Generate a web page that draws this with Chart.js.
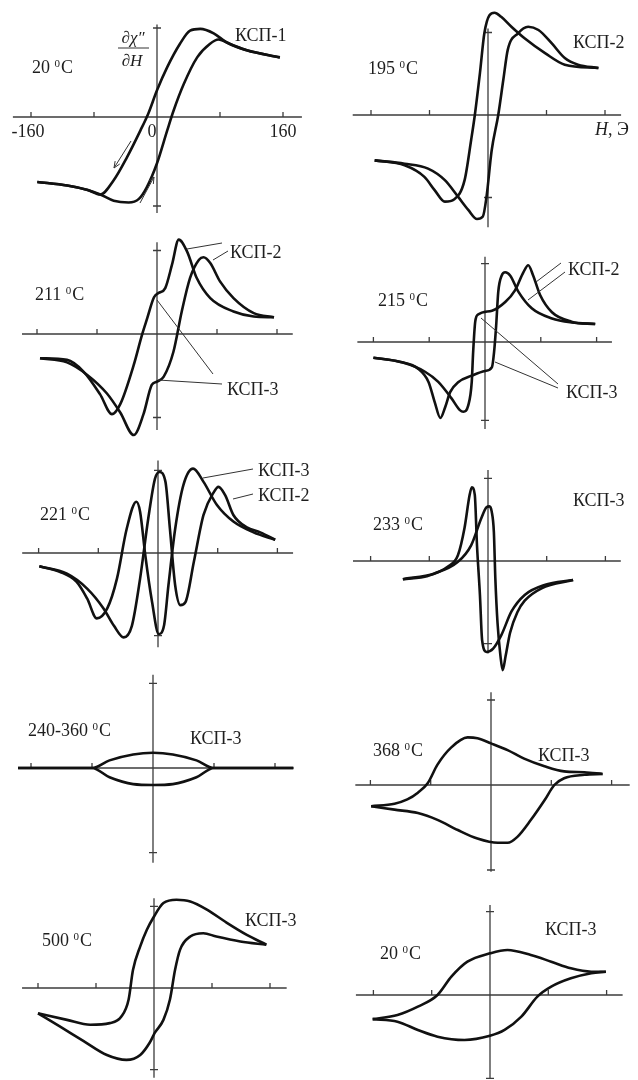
<!DOCTYPE html>
<html>
<head>
<meta charset="utf-8">
<script src="https://cdn.jsdelivr.net/npm/chart.js@4/dist/chart.umd.min.js"></script>
<style>
body { margin: 0; background: #fff; }
#wrap { position: relative; width: 638px; height: 1080px; }
#wrap canvas { position: absolute; }
</style>
</head>
<body>
<div id="wrap"></div>
<script>
// H in Oe, y = d(chi'')/dH in units of the y tick
const hTicks = [-160, -80, 0, 80, 160];
const yTicks = [-1, 1];
const hTickLabels = ['-160', '0', '160'];
const temps = ['20', '195', '211', '215', '221', '233', '240-360', '368', '500', '20'];

// 20 C, KSP-1
const p1aH = [-152, -114, -88, -72, -55, -38, -21, -11, 0, 13, 29, 42, 55, 72, 88, 114, 156];
const p1aY = [-0.73, -0.77, -0.82, -0.87, -0.71, -0.45, -0.15, 0.04, 0.30, 0.56, 0.82, 0.97, 0.99, 0.94, 0.84, 0.75, 0.67];
const p1bH = [-152, -114, -88, -72, -55, -36, -23, -13, 0, 13, 21, 34, 51, 67, 78, 93, 114, 156];
const p1bY = [-0.73, -0.77, -0.82, -0.87, -0.94, -0.96, -0.92, -0.79, -0.52, -0.15, 0.07, 0.37, 0.67, 0.82, 0.87, 0.82, 0.75, 0.67];

// 195 C, KSP-2
const p2aH = [-155, -114, -87, -73, -59, -46, -32, -23, -18, -11, -5, 2, 9, 18, 32, 50, 78, 105, 151];
const p2aY = [-0.55, -0.61, -0.75, -0.91, -1.05, -1.02, -0.79, -0.30, 0, 0.51, 0.99, 1.21, 1.24, 1.19, 1.07, 0.93, 0.75, 0.61, 0.57];
const p2bH = [-155, -114, -82, -59, -41, -27, -15, -7, -2, 5, 14, 21, 27, 41, 55, 69, 87, 105, 123, 151];
const p2bY = [-0.55, -0.59, -0.65, -0.79, -0.99, -1.15, -1.26, -1.23, -0.99, -0.43, 0, 0.43, 0.79, 0.99, 1.07, 1.03, 0.87, 0.69, 0.61, 0.57];

// 211 C
const p3aH = [-156, -120, -98, -76, -60, -49, -31, -20, -13, -4, 2, 11, 20, 29, 40, 53, 71, 102, 129, 156];
const p3aY = [-0.29, -0.31, -0.45, -0.72, -0.96, -0.84, -0.37, -0.01, 0.19, 0.44, 0.49, 0.55, 0.83, 1.13, 0.99, 0.67, 0.43, 0.27, 0.21, 0.20];
const p3bH = [-156, -120, -93, -67, -49, -31, -18, -7, 0, 9, 22, 33, 44, 56, 62, 71, 84, 102, 129, 156];
const p3bY = [-0.29, -0.34, -0.49, -0.71, -0.94, -1.21, -0.96, -0.61, -0.57, -0.51, -0.21, 0.27, 0.67, 0.89, 0.92, 0.85, 0.63, 0.43, 0.25, 0.20];

// 215 C
const p4aH = [-160, -124, -96, -81, -72, -64, -57, -50, -38, -19, 0, 10, 13, 16, 19, 24, 29, 36, 48, 67, 96, 124, 158];
const p4aY = [-0.20, -0.25, -0.34, -0.51, -0.77, -0.97, -0.83, -0.64, -0.51, -0.43, -0.37, -0.32, -0.13, 0.21, 0.64, 0.85, 0.89, 0.85, 0.64, 0.43, 0.30, 0.25, 0.23];
const p4bH = [-160, -119, -86, -67, -48, -36, -31, -24, -19, -17, -14, -10, 10, 29, 43, 55, 62, 69, 79, 96, 124, 158];
const p4bY = [-0.20, -0.26, -0.38, -0.51, -0.72, -0.87, -0.89, -0.81, -0.51, -0.13, 0.26, 0.35, 0.40, 0.51, 0.66, 0.89, 0.98, 0.85, 0.60, 0.38, 0.26, 0.23];

// 221 C
const p5aH = [-159, -131, -109, -95, -82, -68, -55, -42, -29, -24, -17, -8, 1, 8, 14, 23, 34, 47, 61, 79, 101, 128, 157];
const p5aY = [-0.16, -0.23, -0.35, -0.55, -0.79, -0.67, -0.31, 0.29, 0.62, 0.50, -0.03, -0.59, -0.98, -0.88, -0.39, 0.29, 0.82, 1.02, 0.86, 0.58, 0.38, 0.25, 0.16];
const p5bH = [-159, -122, -95, -73, -59, -46, -35, -24, -13, -4, 2, 10, 16, 23, 30, 37, 48, 61, 75, 81, 90, 101, 119, 137, 157];
const p5bY = [-0.16, -0.25, -0.43, -0.67, -0.88, -1.02, -0.88, -0.31, 0.42, 0.90, 0.98, 0.86, 0.29, -0.39, -0.63, -0.59, -0.11, 0.46, 0.74, 0.80, 0.70, 0.46, 0.31, 0.25, 0.16];

// 233 C
const p6aH = [-116, -82, -55, -41, -32, -25, -22, -18, -15, -11, -8, -2, 7, 18, 32, 50, 77, 116];
const p6aY = [-0.22, -0.18, -0.07, 0.07, 0.40, 0.80, 0.89, 0.80, 0.19, -0.41, -0.96, -1.10, -1.06, -0.90, -0.61, -0.41, -0.29, -0.23];
const p6bH = [-116, -73, -41, -23, -9, -2, 2, 5, 8, 10, 13, 17, 20, 24, 30, 40, 50, 73, 116];
const p6bY = [-0.22, -0.15, -0.01, 0.19, 0.52, 0.65, 0.66, 0.60, 0.35, -0.21, -0.75, -1.15, -1.32, -1.15, -0.87, -0.62, -0.48, -0.33, -0.23];

// 240-360 C
const p7H = [-177, -80, -57, -26, 0, 26, 57, 80, 184];
const p7aY = [0, 0, 0.09, 0.16, 0.18, 0.16, 0.09, 0, 0];
const p7bY = [0, 0, -0.11, -0.19, -0.20, -0.19, -0.11, 0, 0];

// 368 C
const p8aH = [-159, -128, -111, -97, -84, -71, -53, -31, -18, 0, 22, 44, 71, 97, 124, 148];
const p8aY = [-0.25, -0.22, -0.17, -0.09, 0.02, 0.24, 0.44, 0.56, 0.55, 0.49, 0.41, 0.31, 0.22, 0.16, 0.15, 0.13];
const p8bH = [-159, -128, -97, -71, -44, -18, 9, 22, 35, 53, 71, 84, 97, 124, 148];
const p8bY = [-0.25, -0.29, -0.33, -0.41, -0.53, -0.63, -0.68, -0.68, -0.61, -0.41, -0.18, 0, 0.08, 0.12, 0.13];

// 500 C
const p9aH = [-160, -120, -88, -61, -45, -35, -29, -19, -10, -1, 13, 31, 50, 73, 100, 128, 155];
const p9aY = [-0.31, -0.39, -0.45, -0.43, -0.35, -0.14, 0.22, 0.51, 0.71, 0.86, 1.04, 1.08, 1.06, 0.96, 0.80, 0.65, 0.53];
const p9bH = [-160, -130, -97, -65, -38, -19, -6, 1, 13, 22, 29, 36, 50, 68, 86, 119, 155];
const p9bY = [-0.31, -0.47, -0.65, -0.82, -0.88, -0.82, -0.67, -0.55, -0.39, -0.14, 0.22, 0.47, 0.63, 0.67, 0.63, 0.57, 0.53];

// 20 C after annealing
const p10aH = [-161, -127, -99, -72, -53, -31, 0, 24, 56, 84, 111, 139, 159];
const p10aY = [-0.29, -0.24, -0.14, 0, 0.22, 0.40, 0.50, 0.54, 0.48, 0.40, 0.32, 0.28, 0.28];
const p10bH = [-161, -127, -99, -72, -35, 0, 20, 43, 65, 84, 111, 139, 159];
const p10bY = [-0.29, -0.32, -0.42, -0.50, -0.54, -0.49, -0.42, -0.26, -0.02, 0.10, 0.20, 0.26, 0.28];

const FONT = '18px "Liberation Serif", "Times New Roman", serif';
const SMALL = '11px "Liberation Serif", "Times New Roman", serif';

// page layout of each small plot (rect = canvas box, origin = pixel of H=0,y=0)
const panels = [
  { rect: [0, 0, 319, 225], origin: [157, 117], sx: 63, sy: 89, hAxis: [-183, 184], yAxis: [-1.08, 1.04],
    curves: [[p1aH, p1aY], [p1bH, p1bY]], temp: [temps[0], 32, 73],
    labels: [['КСП-1', 235, 41]], leaders: [], arrows: [[131, 141, 114, 168], [140, 203, 154, 177]], first: true },
  { rect: [319, 0, 319, 232], origin: [488, 115], sx: 58.5, sy: 82.5, hAxis: [-185, 182], yAxis: [-1.36, 1.05],
    curves: [[p2aH, p2aY], [p2bH, p2bY]], temp: [temps[1], 368, 74],
    labels: [['КСП-2', 573, 48]], leaders: [], arrows: [], unit: true },
  { rect: [0, 225, 319, 220], origin: [157, 334], sx: 60, sy: 83.5, hAxis: [-180, 181], yAxis: [-1.15, 1.10],
    curves: [[p3aH, p3aY], [p3bH, p3bY]], temp: [temps[2], 35, 300],
    labels: [['КСП-2', 230, 258], ['КСП-3', 227, 395]],
    leaders: [[187, 249, 222, 243], [213, 260, 228, 251], [157, 300, 213, 374], [158, 380, 222, 384]], arrows: [] },
  { rect: [319, 225, 319, 220], origin: [485, 342], sx: 55.8, sy: 78.3, hAxis: [-183, 182], yAxis: [-1.11, 1.09],
    curves: [[p4aH, p4aY], [p4bH, p4bY]], temp: [temps[3], 378, 306],
    labels: [['КСП-2', 568, 275], ['КСП-3', 566, 398]],
    leaders: [[536, 282, 561, 263], [528, 300, 565, 272], [481, 318, 558, 384], [495, 362, 558, 388]], arrows: [] },
  { rect: [0, 445, 319, 215], origin: [158, 553], sx: 59.7, sy: 82.7, hAxis: [-182, 181], yAxis: [-1.14, 1.12],
    curves: [[p5aH, p5aY], [p5bH, p5bY]], temp: [temps[4], 40, 520],
    labels: [['КСП-3', 258, 476], ['КСП-2', 258, 501]],
    leaders: [[203, 478, 253, 469], [233, 499, 253, 494]], arrows: [] },
  { rect: [319, 445, 319, 240], origin: [488, 561], sx: 58.7, sy: 82.7, hAxis: [-184, 181], yAxis: [-1.12, 1.10],
    curves: [[p6aH, p6aY], [p6bH, p6bY]], temp: [temps[5], 373, 530],
    labels: [['КСП-3', 573, 506]], leaders: [], arrows: [] },
  { rect: [0, 660, 319, 210], origin: [153, 768], sx: 61, sy: 84.7, hAxis: [-177, 184], yAxis: [-1.12, 1.10],
    curves: [[p7H, p7aY], [p7H, p7bY]], temp: [temps[6], 28, 736],
    labels: [['КСП-3', 190, 744]], leaders: [], arrows: [] },
  { rect: [319, 660, 319, 215], origin: [491, 785], sx: 60.3, sy: 85, hAxis: [-180, 184], yAxis: [-1.02, 1.09],
    curves: [[p8aH, p8aY], [p8bH, p8bY]], temp: [temps[7], 373, 756],
    labels: [['КСП-3', 538, 761]], leaders: [], arrows: [] },
  { rect: [0, 860, 319, 220], origin: [154, 988], sx: 58, sy: 81.7, hAxis: [-182, 183], yAxis: [-1.10, 1.10],
    curves: [[p9aH, p9aY], [p9bH, p9bY]], temp: [temps[8], 42, 946],
    labels: [['КСП-3', 245, 926]], leaders: [], arrows: [] },
  { rect: [319, 860, 319, 220], origin: [490, 995], sx: 58.3, sy: 83.3, hAxis: [-184, 182], yAxis: [-1.0, 1.08],
    curves: [[p10aH, p10aY], [p10bH, p10bY]], temp: [temps[9], 380, 959],
    labels: [['КСП-3', 545, 935]], leaders: [], arrows: [] }
];

function drawTemp(ctx, t, x, y) {
  ctx.font = FONT;
  ctx.fillText(t + ' ', x, y);
  let w = ctx.measureText(t + ' ').width;
  ctx.font = SMALL;
  ctx.fillText('0', x + w, y - 6);
  w += ctx.measureText('0').width + 1;
  ctx.font = FONT;
  ctx.fillText('C', x + w, y);
}

function panelPlugin(p) {
  const ox = p.rect[0], oy = p.rect[1];
  return {
    id: 'panelDeco',
    beforeDatasetsDraw(chart) {
      const ctx = chart.ctx;
      const X = v => chart.scales.x.getPixelForValue(v);
      const Y = v => chart.scales.y.getPixelForValue(v);
      ctx.save();
      ctx.strokeStyle = '#3c3c3c';
      ctx.lineWidth = 1.3;
      ctx.beginPath();
      ctx.moveTo(X(p.hAxis[0]), Y(0));
      ctx.lineTo(X(p.hAxis[1]), Y(0));
      ctx.moveTo(X(0), Y(p.yAxis[1]));
      ctx.lineTo(X(0), Y(p.yAxis[0]));
      hTicks.forEach(h => {
        if (h === 0) return;
        ctx.moveTo(X(h), Y(0));
        ctx.lineTo(X(h), Y(0) - 5);
      });
      yTicks.forEach(v => {
        ctx.moveTo(X(0) - 4, Y(v));
        ctx.lineTo(X(0) + 4, Y(v));
      });
      ctx.stroke();
      ctx.restore();
    },
    afterDatasetsDraw(chart) {
      const ctx = chart.ctx;
      const X = v => chart.scales.x.getPixelForValue(v);
      const Y = v => chart.scales.y.getPixelForValue(v);
      ctx.save();
      ctx.fillStyle = '#1e1e1e';
      ctx.textBaseline = 'alphabetic';
      drawTemp(ctx, p.temp[0], p.temp[1] - ox, p.temp[2] - oy);
      ctx.font = FONT;
      p.labels.forEach(([t, x, y]) => ctx.fillText(t, x - ox, y - oy));
      ctx.strokeStyle = '#333';
      ctx.lineWidth = 1;
      ctx.beginPath();
      p.leaders.forEach(([x1, y1, x2, y2]) => {
        ctx.moveTo(x1 - ox, y1 - oy);
        ctx.lineTo(x2 - ox, y2 - oy);
      });
      ctx.stroke();
      p.arrows.forEach(([x1, y1, x2, y2]) => {
        const a = Math.atan2(y2 - y1, x2 - x1);
        ctx.beginPath();
        ctx.moveTo(x1 - ox, y1 - oy);
        ctx.lineTo(x2 - ox, y2 - oy);
        ctx.moveTo(x2 - ox - 7 * Math.cos(a - 0.4), y2 - oy - 7 * Math.sin(a - 0.4));
        ctx.lineTo(x2 - ox, y2 - oy);
        ctx.lineTo(x2 - ox - 7 * Math.cos(a + 0.4), y2 - oy - 7 * Math.sin(a + 0.4));
        ctx.stroke();
      });
      if (p.first) {
        // tick labels under the H axis
        ctx.font = FONT;
        ctx.textAlign = 'center';
        ctx.fillText(hTickLabels[0], X(-160) - 3, Y(0) + 20);
        ctx.fillText(hTickLabels[1], X(0) - 5, Y(0) + 20);
        ctx.fillText(hTickLabels[2], X(160), Y(0) + 20);
        // y axis title: d chi'' / dH
        ctx.font = 'italic 17px "Liberation Serif", serif';
        ctx.fillText('\u2202\u03C7\u2033', 133, 43);
        ctx.fillText('\u2202H', 132, 66);
        ctx.beginPath();
        ctx.moveTo(118, 48);
        ctx.lineTo(149, 48);
        ctx.stroke();
      }
      if (p.unit) {
        ctx.textAlign = 'left';
        ctx.font = 'italic ' + FONT;
        ctx.fillText('H', 595 - ox, 135 - oy);
        const w = ctx.measureText('H').width;
        ctx.font = FONT;
        ctx.fillText(', Э', 595 - ox + w, 135 - oy);
      }
      ctx.restore();
    }
  };
}

const wrap = document.getElementById('wrap');
panels.forEach(p => {
  const [L, T, W, H] = p.rect;
  const c = document.createElement('canvas');
  c.width = W;
  c.height = H;
  c.style.left = L + 'px';
  c.style.top = T + 'px';
  wrap.appendChild(c);
  const [x0, y0] = p.origin;
  new Chart(c, {
    type: 'line',
    data: {
      datasets: p.curves.map(([hs, ys]) => ({
        data: hs.map((h, i) => ({ x: h, y: ys[i] })),
        borderColor: '#111',
        borderWidth: 2.6,
        pointRadius: 0,
        fill: false,
        clip: false,
        cubicInterpolationMode: 'monotone'
      }))
    },
    options: {
      responsive: false,
      animation: false,
      events: [],
      layout: { padding: 0 },
      scales: {
        x: { type: 'linear', display: false, min: (L - x0) * 80 / p.sx, max: (L + W - x0) * 80 / p.sx },
        y: { type: 'linear', display: false, min: (y0 - T - H) / p.sy, max: (y0 - T) / p.sy }
      },
      plugins: { legend: { display: false }, tooltip: { enabled: false } }
    },
    plugins: [panelPlugin(p)]
  });
});
</script>
</body>
</html>
